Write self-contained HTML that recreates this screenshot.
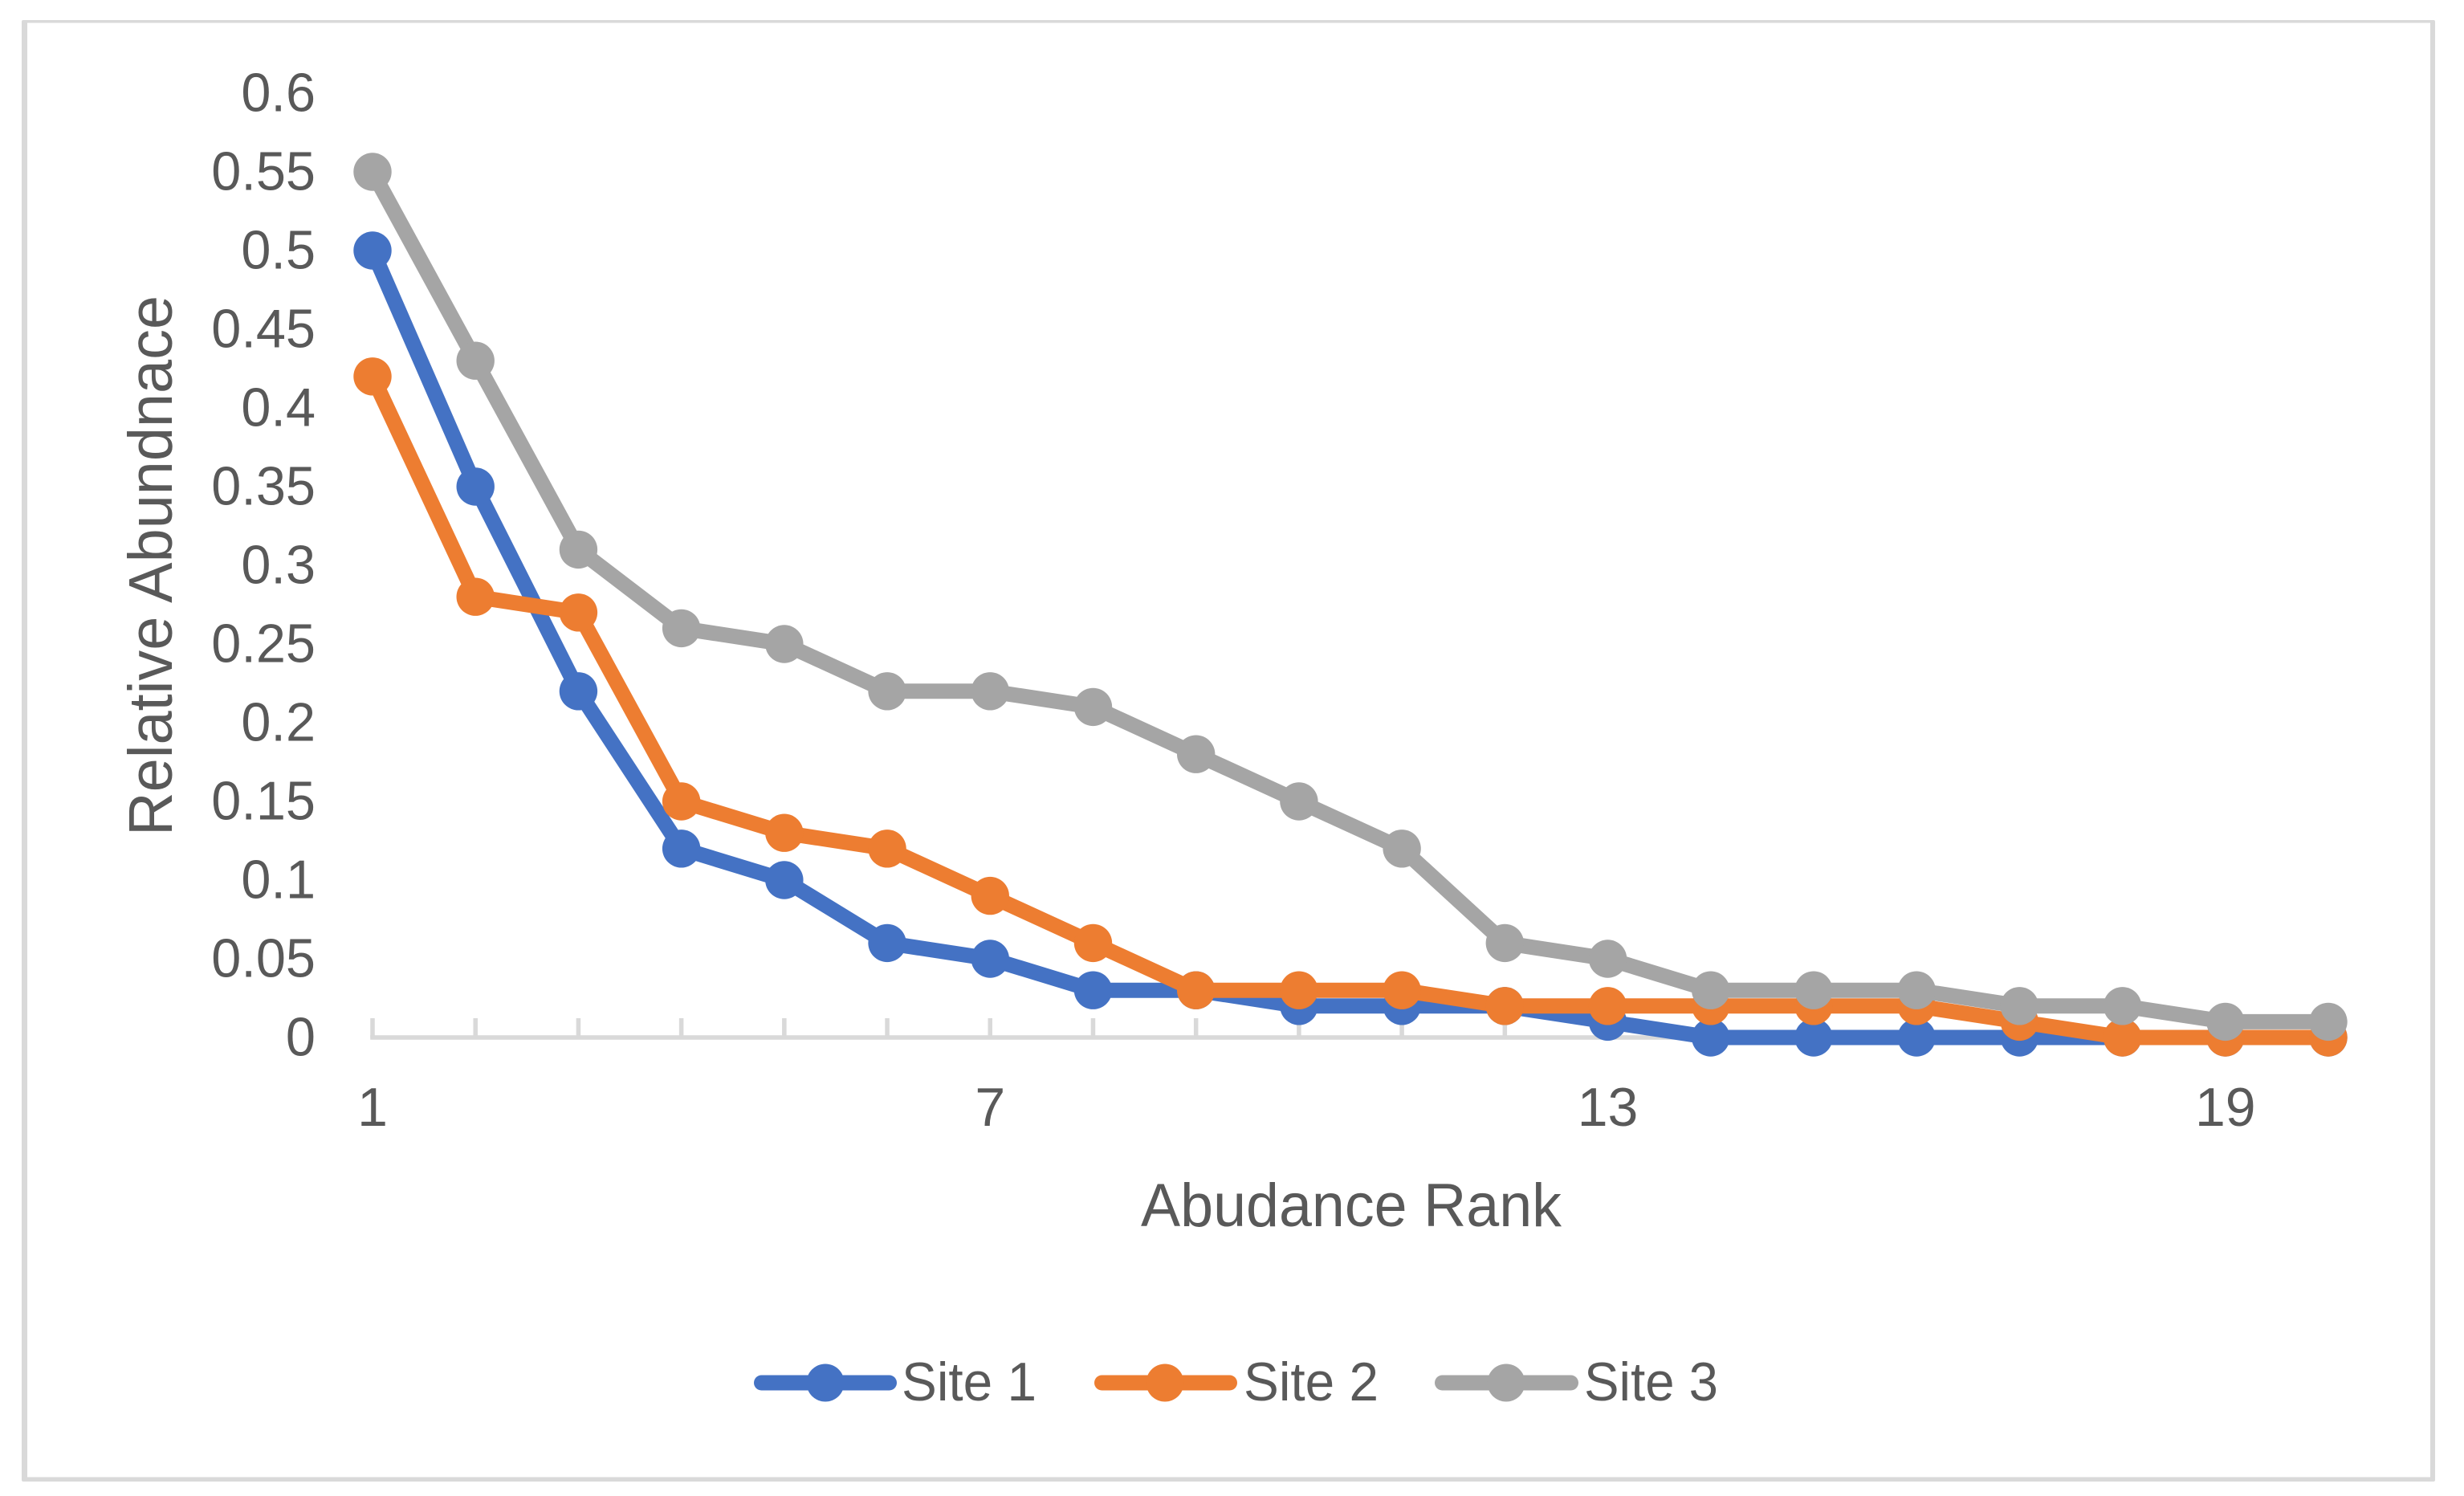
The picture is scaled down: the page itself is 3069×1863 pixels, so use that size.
<!DOCTYPE html>
<html>
<head>
<meta charset="utf-8">
<title>Abundance Rank Chart</title>
<style>
html,body{margin:0;padding:0;background:#fff;width:3069px;height:1863px;overflow:hidden}
svg{display:block}
text{font-family:"Liberation Sans",sans-serif;fill:#595959}
</style>
</head>
<body>
<svg id="chart" xmlns="http://www.w3.org/2000/svg" width="3069" height="1863" viewBox="0 0 3069 1863">
  <rect x="27" y="25" width="3006" height="1820" rx="2" fill="#d9d9d9"/>
  <rect x="34" y="28.5" width="2993" height="1811" fill="#fff"/>
  <g id="axes"></g>
  <g id="series"></g>
  <text transform="translate(214,1041) rotate(-90)" font-size="77" textLength="673" lengthAdjust="spacingAndGlyphs">Relative Abundnace</text>
  <text x="1421" y="1527" font-size="76" textLength="524" lengthAdjust="spacingAndGlyphs">Abudance Rank</text>
  <g>
    <g>
      <line x1="948.5" y1="1722" x2="1107.5" y2="1722" stroke="#4472c4" stroke-width="19" stroke-linecap="round"/>
      <circle cx="1028" cy="1722" r="23.5" fill="#4472c4"/>
      <text x="1123" y="1744" font-size="68" textLength="168" lengthAdjust="spacingAndGlyphs">Site 1</text>
    </g>
    <g>
      <line x1="1372.5" y1="1722" x2="1531.5" y2="1722" stroke="#ed7d31" stroke-width="19" stroke-linecap="round"/>
      <circle cx="1451" cy="1722" r="23.5" fill="#ed7d31"/>
      <text x="1549" y="1744" font-size="68" textLength="168" lengthAdjust="spacingAndGlyphs">Site 2</text>
    </g>
    <g>
      <line x1="1796.5" y1="1722" x2="1956.5" y2="1722" stroke="#a5a5a5" stroke-width="19" stroke-linecap="round"/>
      <circle cx="1876" cy="1722" r="23.5" fill="#a5a5a5"/>
      <text x="1973" y="1744" font-size="68" textLength="167" lengthAdjust="spacingAndGlyphs">Site 3</text>
    </g>
  </g>
</svg>
<script>
const ranks = [1,2,3,4,5,6,7,8,9,10,11,12,13,14,15,16,17,18,19,20];
const site1 = [0.5,0.35,0.22,0.12,0.1,0.06,0.05,0.03,0.03,0.02,0.02,0.02,0.01,0,0,0,0,0,0,0];
const site2 = [0.42,0.28,0.27,0.15,0.13,0.12,0.09,0.06,0.03,0.03,0.03,0.02,0.02,0.02,0.02,0.02,0.01,0,0,0];
const site3 = [0.55,0.43,0.31,0.26,0.25,0.22,0.22,0.21,0.18,0.15,0.12,0.06,0.05,0.03,0.03,0.03,0.02,0.02,0.01,0.01];
const yTickLabels = ["0","0.05","0.1","0.15","0.2","0.25","0.3","0.35","0.4","0.45","0.5","0.55","0.6"];
const xTickLabels = ["1","7","13","19"];

const NS = "http://www.w3.org/2000/svg";
const xScale = r => 464 + (r - 1) * (2900 - 464) / 19;
const yScale = v => 1292 - v * 1960;

function make(tag, attrs, parent) {
  const el = document.createElementNS(NS, tag);
  for (const k in attrs) el.setAttribute(k, attrs[k]);
  parent.appendChild(el);
  return el;
}

const axes = document.getElementById("axes");
const seriesGroup = document.getElementById("series");

const axisLine = make("line", {x1: xScale(ranks[0]) - 2.8, y1: 1292, x2: xScale(ranks[ranks.length - 1]), y2: 1292, stroke: "#d9d9d9", "stroke-width": 5.6}, axes);



ranks.forEach(r => {
  const tick = make("line", {x1: xScale(r), y1: 1268, x2: xScale(r), y2: 1292, stroke: "#d9d9d9", "stroke-width": 5.5}, axes);
  
  
});

yTickLabels.forEach(lbl => {
  const t = make("text", {x: 393, y: yScale(parseFloat(lbl)) + 22.5, "font-size": 68, "text-anchor": "end"}, axes);
  t.textContent = lbl;
  
  
  t.setAttribute("textLength", (t.getComputedTextLength() * 0.98).toFixed(1));
  t.setAttribute("lengthAdjust", "spacingAndGlyphs");
});

xTickLabels.forEach(lbl => {
  const t = make("text", {x: xScale(parseFloat(lbl)), y: 1402, "font-size": 68, "text-anchor": "middle"}, axes);
  t.textContent = lbl;
  
  
});

function drawSeries(values, color, name) {
  const g = make("g", {}, seriesGroup);
  
  
  const pts = values.map((v, i) => xScale(ranks[i]) + "," + yScale(v)).join(" ");
  const line = make("polyline", {points: pts, fill: "none", stroke: color, "stroke-width": 19, "stroke-linejoin": "round", "stroke-linecap": "round"}, g);
  
  
  values.forEach((v, i) => {
    const c = make("circle", {cx: xScale(ranks[i]), cy: yScale(v), r: 23.7, fill: color}, g);
    
    
  });
}

drawSeries(site1, "#4472c4", "series-site-1");
drawSeries(site2, "#ed7d31", "series-site-2");
drawSeries(site3, "#a5a5a5", "series-site-3");
</script>
</body>
</html>
